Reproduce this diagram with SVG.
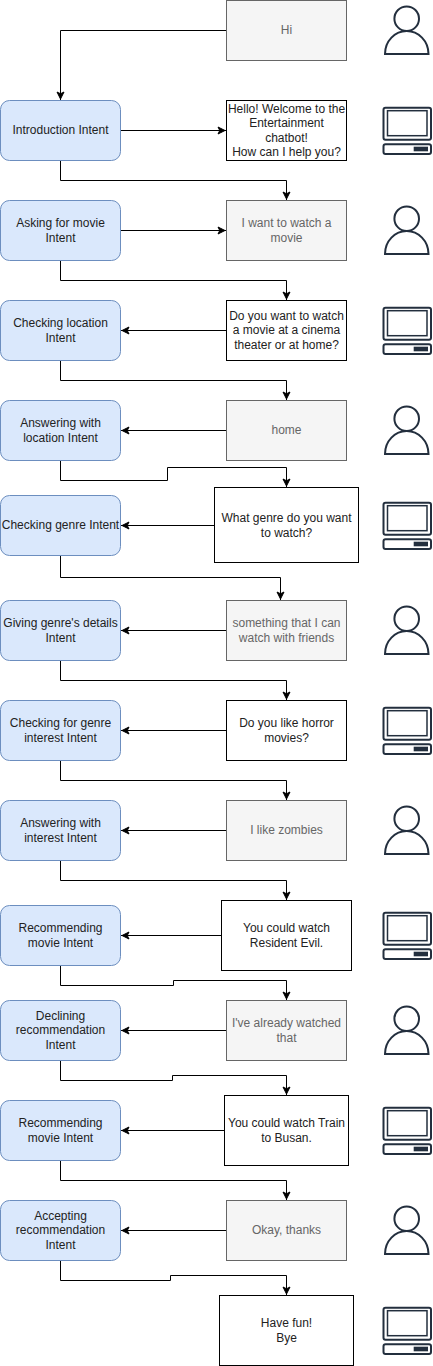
<svg xmlns="http://www.w3.org/2000/svg" width="433" height="1366" viewBox="0 0 433 1366">
<style>
text{font-family:"Liberation Sans",Arial,sans-serif;font-size:12px;text-anchor:middle;fill:#222}
text.ut{fill:#666}
.i{fill:#dae8fc;stroke:#6c8ebf;stroke-width:1}
.u{fill:#f5f5f5;stroke:#666;stroke-width:1}
.b{fill:#fff;stroke:#000;stroke-width:1}
.c{fill:none;stroke:#000;stroke-width:1;marker-end:url(#a)}
.ic{fill:none;stroke:#232f3e;stroke-width:2}
.ic2{fill:none;stroke:#232f3e;stroke-width:1.500}
</style>
<defs>
<marker id="a" markerUnits="userSpaceOnUse" markerWidth="12" markerHeight="12" refX="10" refY="6" orient="auto"><path d="M9 6L2 2.500 3.750 6 2 9.500z" fill="#000" stroke="#000" stroke-width="1"/></marker>
<g id="person"><circle class="ic" cx="406.700" cy="18.700" r="12.300"/><path class="ic" d="M385 54C385 41 395 31 406.700 31S428.500 41 428.500 54z"/></g>
<g id="pc"><rect class="ic" x="383.500" y="107.700" width="47.500" height="32" rx="2"/><rect class="ic2" x="387.500" y="110.700" width="39.500" height="25"/><rect class="ic" x="383.500" y="144.300" width="47.500" height="9.700" rx="2"/><rect x="413.700" y="146.700" width="14.300" height="4.600" fill="#232f3e"/></g>
</defs>
<g id="connectors">
<path class="c" d="M226.500 30.500H60.500V100"/>
<path class="c" d="M120.500 130.500H226"/>
<path class="c" d="M60.500 160.500V180.500H286.500V200"/>
<path class="c" d="M120.500 230.500H226"/>
<path class="c" d="M60.500 260.500V280.500H286.500V300"/>
<path class="c" d="M226.500 330.500H121"/>
<path class="c" d="M60.500 360.500V380.500H286.500V400"/>
<path class="c" d="M226.500 430.500H121"/>
<path class="c" d="M60.500 460.500V480.500H167.500V467.500H286.500V487"/>
<path class="c" d="M214.500 525.500H121"/>
<path class="c" d="M60.500 555.500V577.500H280.500V600"/>
<path class="c" d="M226.500 630.500H121"/>
<path class="c" d="M60.500 660.500V680.500H286.500V700"/>
<path class="c" d="M226.500 730.500H121"/>
<path class="c" d="M60.500 760.500V780.500H286.500V800"/>
<path class="c" d="M226.500 830.500H121"/>
<path class="c" d="M60.500 860.500V880.500H286.500V900"/>
<path class="c" d="M221.500 935.500H121"/>
<path class="c" d="M60.500 965.500V985.500H173.500V980.500H286.500V1000"/>
<path class="c" d="M226.500 1030.500H121"/>
<path class="c" d="M60.500 1060.500V1080.500H172.500V1075.500H286.500V1095"/>
<path class="c" d="M224.500 1130.500H121"/>
<path class="c" d="M60.500 1160.500V1180.500H286.500V1200"/>
<path class="c" d="M226.500 1230.500H121"/>
<path class="c" d="M60.500 1260.500V1280.500H170.500V1275.500H286.500V1295"/>
</g>
<g id="intent1"><rect class="i" x="0.500" y="100.500" width="120" height="60" rx="9"/><text x="60.500" y="134">Introduction Intent</text></g>
<g id="intent2"><rect class="i" x="0.500" y="200.500" width="120" height="60" rx="9"/><text x="60.500" y="227">Asking for movie</text><text x="60.500" y="242">Intent</text></g>
<g id="intent3"><rect class="i" x="0.500" y="300.500" width="120" height="60" rx="9"/><text x="60.500" y="327">Checking location</text><text x="60.500" y="342">Intent</text></g>
<g id="intent4"><rect class="i" x="0.500" y="400.500" width="120" height="60" rx="9"/><text x="60.500" y="427">Answering with</text><text x="60.500" y="442">location Intent</text></g>
<g id="intent5"><rect class="i" x="0.500" y="495.500" width="120" height="60" rx="9"/><text x="60.500" y="529">Checking genre Intent</text></g>
<g id="intent6"><rect class="i" x="0.500" y="600.500" width="120" height="60" rx="9"/><text x="60.500" y="627">Giving genre's details</text><text x="60.500" y="642">Intent</text></g>
<g id="intent7"><rect class="i" x="0.500" y="700.500" width="120" height="60" rx="9"/><text x="60.500" y="727">Checking for genre</text><text x="60.500" y="742">interest Intent</text></g>
<g id="intent8"><rect class="i" x="0.500" y="800.500" width="120" height="60" rx="9"/><text x="60.500" y="827">Answering with</text><text x="60.500" y="842">interest Intent</text></g>
<g id="intent9"><rect class="i" x="0.500" y="905.500" width="120" height="60" rx="9"/><text x="60.500" y="932">Recommending</text><text x="60.500" y="947">movie Intent</text></g>
<g id="intent10"><rect class="i" x="0.500" y="1000.500" width="120" height="60" rx="9"/><text x="60.500" y="1020">Declining</text><text x="60.500" y="1034">recommendation</text><text x="60.500" y="1049">Intent</text></g>
<g id="intent11"><rect class="i" x="0.500" y="1100.500" width="120" height="60" rx="9"/><text x="60.500" y="1127">Recommending</text><text x="60.500" y="1142">movie Intent</text></g>
<g id="intent12"><rect class="i" x="0.500" y="1200.500" width="120" height="60" rx="9"/><text x="60.500" y="1220">Accepting</text><text x="60.500" y="1234">recommendation</text><text x="60.500" y="1249">Intent</text></g>
<g id="msg1"><rect class="u" x="226.500" y="0.500" width="120" height="60"/><text class="ut" x="286.500" y="34">Hi</text></g>
<g id="msg2"><rect class="b" x="226.500" y="100.500" width="120" height="60"/><text x="286.500" y="113">Hello! Welcome to the</text><text x="286.500" y="127">Entertainment</text><text x="286.500" y="142">chatbot!</text><text x="286.500" y="156">How can I help you?</text></g>
<g id="msg3"><rect class="u" x="226.500" y="200.500" width="120" height="60"/><text class="ut" x="286.500" y="227">I want to watch a</text><text class="ut" x="286.500" y="242">movie</text></g>
<g id="msg4"><rect class="b" x="226.500" y="300.500" width="120" height="60"/><text x="286.500" y="320">Do you want to watch</text><text x="286.500" y="334">a movie at a cinema</text><text x="286.500" y="349">theater or at home?</text></g>
<g id="msg5"><rect class="u" x="226.500" y="400.500" width="120" height="60"/><text class="ut" x="286.500" y="434">home</text></g>
<g id="msg6"><rect class="b" x="214.500" y="487.500" width="144" height="75"/><text x="286.500" y="522">What genre do you want</text><text x="286.500" y="537">to watch?</text></g>
<g id="msg7"><rect class="u" x="226.500" y="600.500" width="120" height="60"/><text class="ut" x="286.500" y="627">something that I can</text><text class="ut" x="286.500" y="642">watch with friends</text></g>
<g id="msg8"><rect class="b" x="226.500" y="700.500" width="120" height="60"/><text x="286.500" y="727">Do you like horror</text><text x="286.500" y="742">movies?</text></g>
<g id="msg9"><rect class="u" x="226.500" y="800.500" width="120" height="60"/><text class="ut" x="286.500" y="834">I like zombies</text></g>
<g id="msg10"><rect class="b" x="221.500" y="900.500" width="130" height="70"/><text x="286.500" y="932">You could watch</text><text x="286.500" y="947">Resident Evil.</text></g>
<g id="msg11"><rect class="u" x="226.500" y="1000.500" width="120" height="60"/><text class="ut" x="286.500" y="1027">I've already watched</text><text class="ut" x="286.500" y="1042">that</text></g>
<g id="msg12"><rect class="b" x="224.500" y="1095.500" width="124" height="70"/><text x="286.500" y="1127">You could watch Train</text><text x="286.500" y="1142">to Busan.</text></g>
<g id="msg13"><rect class="u" x="226.500" y="1200.500" width="120" height="60"/><text class="ut" x="286.500" y="1234">Okay, thanks</text></g>
<g id="msg14"><rect class="b" x="219.500" y="1295.500" width="134" height="70"/><text x="286.500" y="1327">Have fun!</text><text x="286.500" y="1342">Bye</text></g>
<g id="icons">
<use href="#person"/><use href="#person" y="200"/><use href="#person" y="400"/><use href="#person" y="600"/><use href="#person" y="800"/><use href="#person" y="1000"/><use href="#person" y="1200"/>
<use href="#pc"/><use href="#pc" y="200"/><use href="#pc" y="395"/><use href="#pc" y="600"/><use href="#pc" y="805"/><use href="#pc" y="1000"/><use href="#pc" y="1200"/>
</g>
</svg>
